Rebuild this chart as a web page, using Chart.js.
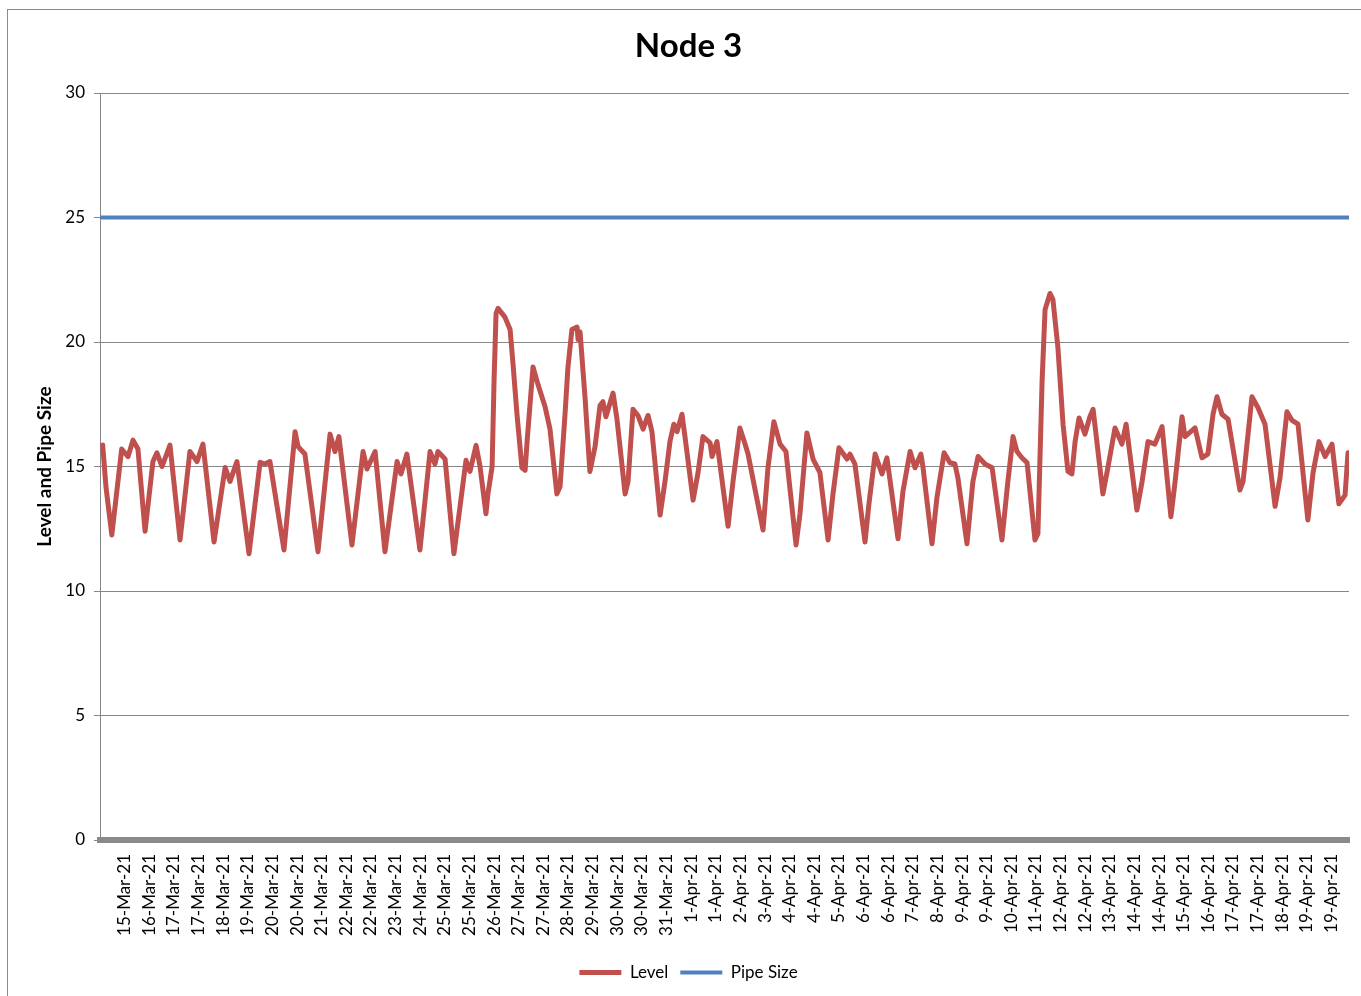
<!DOCTYPE html>
<html>
<head>
<meta charset="utf-8">
<script src="https://cdn.jsdelivr.net/npm/chart.js@4.4.1/dist/chart.umd.min.js"></script>
<style>
  html, body { margin: 0; padding: 0; background: #ffffff; overflow: hidden; }
  #frame { position: absolute; left: 7px; top: 9px; width: 1400px; height: 1000px; border: 1.5px solid #8a8a8a; box-sizing: border-box; }
  #c { position: absolute; left: 0; top: 0; }
</style>
</head>
<body>
<div id="frame"></div>
<canvas id="c" width="1361" height="996"></canvas>
<script>
// Tick labels along the x axis (one every 100 samples)
const tickLabels = [
  '15-Mar-21','16-Mar-21','17-Mar-21','17-Mar-21','18-Mar-21','19-Mar-21','20-Mar-21','20-Mar-21','21-Mar-21','22-Mar-21',
  '22-Mar-21','23-Mar-21','24-Mar-21','25-Mar-21','25-Mar-21','26-Mar-21','27-Mar-21','27-Mar-21','28-Mar-21','29-Mar-21',
  '30-Mar-21','30-Mar-21','31-Mar-21','1-Apr-21','1-Apr-21','2-Apr-21','3-Apr-21','4-Apr-21','4-Apr-21','5-Apr-21',
  '6-Apr-21','6-Apr-21','7-Apr-21','8-Apr-21','9-Apr-21','9-Apr-21','10-Apr-21','11-Apr-21','12-Apr-21','12-Apr-21',
  '13-Apr-21','14-Apr-21','14-Apr-21','15-Apr-21','16-Apr-21','17-Apr-21','17-Apr-21','18-Apr-21','19-Apr-21','19-Apr-21'
];
const tickStep = 100;
const sampleMax = 5071;

// Level series: sample index and level value
const levelX = [
  11,24,48,88,114,134,154,183,215,231,
  252,284,325,365,394,418,463,508,528,556,
  605,650,670,690,747,792,804,832,885,934,
  954,970,1023,1068,1084,1117,1157,1206,1222,1246,
  1299,1340,1360,1372,1401,1437,1486,1502,1527,1543,
  1567,1575,1592,1600,1608,1616,1644,1665,1677,1693,
  1713,1726,1734,1758,1778,1807,1827,1855,1868,1888,
  1900,1916,1937,1941,1949,1969,1989,2010,2030,2042,
  2054,2083,2099,2132,2144,2164,2184,2205,2225,2241,
  2274,2294,2314,2330,2343,2363,2375,2408,2428,2448,
  2477,2485,2505,2550,2570,2598,2619,2631,2692,2712,
  2736,2761,2785,2826,2842,2870,2895,2923,2956,2976,
  3000,3033,3045,3065,3106,3122,3147,3175,3195,3240,
  3260,3289,3309,3333,3341,3378,3398,3427,3451,3471,
  3483,3520,3544,3565,3593,3622,3662,3686,3707,3723,
  3743,3764,3796,3808,3825,3837,3857,3869,3889,3910,
  3930,3946,3959,3975,3999,4019,4032,4072,4092,4121,
  4149,4166,4210,4231,4255,4283,4312,4348,4365,4393,
  4405,4446,4474,4498,4519,4535,4555,4580,4628,4641,
  4677,4702,4730,4771,4791,4819,4840,4864,4904,4925,
  4949,4974,5002,5030,5055,5067
];
const levelV = [
  15.86,14.2,12.25,15.7,15.4,16.06,15.7,12.4,15.2,15.55,
  15.0,15.86,12.05,15.6,15.2,15.9,11.97,14.96,14.4,15.2,
  11.5,15.17,15.1,15.2,11.65,16.4,15.8,15.5,11.58,16.3,
  15.6,16.2,11.85,15.6,14.9,15.6,11.58,15.2,14.7,15.5,
  11.65,15.6,15.1,15.6,15.3,11.5,15.25,14.8,15.85,15.0,
  13.1,13.9,15.0,18.5,21.15,21.35,21.0,20.5,19.1,17.1,
  14.95,14.85,16.0,19.0,18.3,17.4,16.5,13.9,14.2,17.1,
  19.0,20.5,20.6,20.1,20.4,17.8,14.8,15.8,17.45,17.6,
  17.0,17.95,16.9,13.9,14.4,17.3,17.05,16.5,17.05,16.4,
  13.05,14.4,16.0,16.7,16.4,17.1,16.2,13.65,14.75,16.2,
  15.95,15.4,16.0,12.6,14.4,16.55,15.9,15.5,12.45,14.95,
  16.8,15.9,15.6,11.85,13.1,16.35,15.3,14.75,12.05,13.9,
  15.75,15.3,15.5,15.1,11.97,13.5,15.5,14.7,15.35,12.1,
  14.0,15.6,14.95,15.5,15.0,11.9,13.75,15.55,15.15,15.1,
  14.55,11.9,14.4,15.4,15.1,14.95,12.05,14.4,16.2,15.6,
  15.35,15.15,12.05,12.3,18.45,21.3,21.95,21.7,19.8,16.7,
  14.8,14.7,16.0,16.95,16.3,17.0,17.3,13.9,14.95,16.55,
  15.9,16.7,13.25,14.4,16.0,15.9,16.6,12.98,14.4,17.0,
  16.2,16.55,15.35,15.5,17.1,17.8,17.1,16.9,14.05,14.4,
  17.8,17.35,16.7,13.4,14.55,17.2,16.85,16.7,12.85,14.75,
  16.0,15.4,15.9,13.5,13.85,15.55
];

// Pipe size series
const pipeX = [0, 5071];
const pipeV = [25, 25];

// Y axis
const yMin = 0, yMax = 30, yStep = 5;

const FONT = 'Lato';
const gridGray = '#878787';

const toPoints = (xs, ys) => xs.map((x, i) => ({ x: x, y: ys[i] }));

new Chart(document.getElementById('c'), {
  type: 'line',
  data: {
    datasets: [
      {
        label: 'Level',
        data: toPoints(levelX, levelV),
        borderColor: '#C0504D',
        backgroundColor: '#C0504D',
        borderWidth: 5,
        pointRadius: 0,
        tension: 0,
        borderJoinStyle: 'round',
        borderCapStyle: 'round',
        fill: false
      },
      {
        label: 'Pipe Size',
        data: toPoints(pipeX, pipeV),
        borderColor: '#4F81BD',
        backgroundColor: '#4F81BD',
        borderWidth: 4,
        pointRadius: 0,
        tension: 0,
        fill: false
      }
    ]
  },
  options: {
    responsive: false,
    animation: false,
    devicePixelRatio: 1,
    layout: { padding: { left: 28, right: 12, top: 0, bottom: 5 } },
    plugins: {
      title: {
        display: true,
        text: 'Node 3',
        color: '#000',
        font: { family: FONT, size: 33, weight: 'bold' },
        padding: { top: 27, bottom: 26.4 }
      },
      legend: {
        display: true,
        position: 'bottom',
        labels: {
          usePointStyle: true,
          pointStyle: 'line',
          pointStyleWidth: 42,
          color: '#000',
          font: { family: FONT, size: 17 },
          padding: 12
        }
      },
      tooltip: { enabled: false }
    },
    scales: {
      x: {
        type: 'linear',
        min: 0,
        max: sampleMax,
        bounds: 'data',
        grid: { display: false, drawTicks: false },
        border: { display: true, color: '#8a8a8a', width: 6 },
        afterBuildTicks: (scale) => {
          scale.ticks = tickLabels.map((_, i) => ({ value: (i + 1) * tickStep }));
        },
        afterFit: (scale) => {
          scale.height = 112;
          scale.paddingLeft = 0;
          scale.paddingRight = 0;
        },
        ticks: {
          autoSkip: false,
          maxRotation: 90,
          minRotation: 90,
          padding: 14,
          color: '#000',
          font: { family: FONT, size: 17 },
          callback: (v) => tickLabels[Math.round(v / tickStep) - 1] || ''
        }
      },
      y: {
        min: yMin,
        max: yMax,
        afterFit: (scale) => { scale.width = 72; },
        ticks: {
          stepSize: yStep,
          padding: 9,
          color: '#000',
          font: { family: FONT, size: 17 }
        },
        grid: { color: gridGray, lineWidth: 1, drawTicks: true, tickLength: 6, tickColor: gridGray },
        border: { display: true, color: gridGray, width: 1 },
        title: {
          display: true,
          text: 'Level and Pipe Size',
          color: '#000',
          font: { family: FONT, size: 19, weight: 'bold' },
          padding: { top: 5, bottom: 0 }
        }
      }
    }
  }
});
</script>
</body>
</html>
